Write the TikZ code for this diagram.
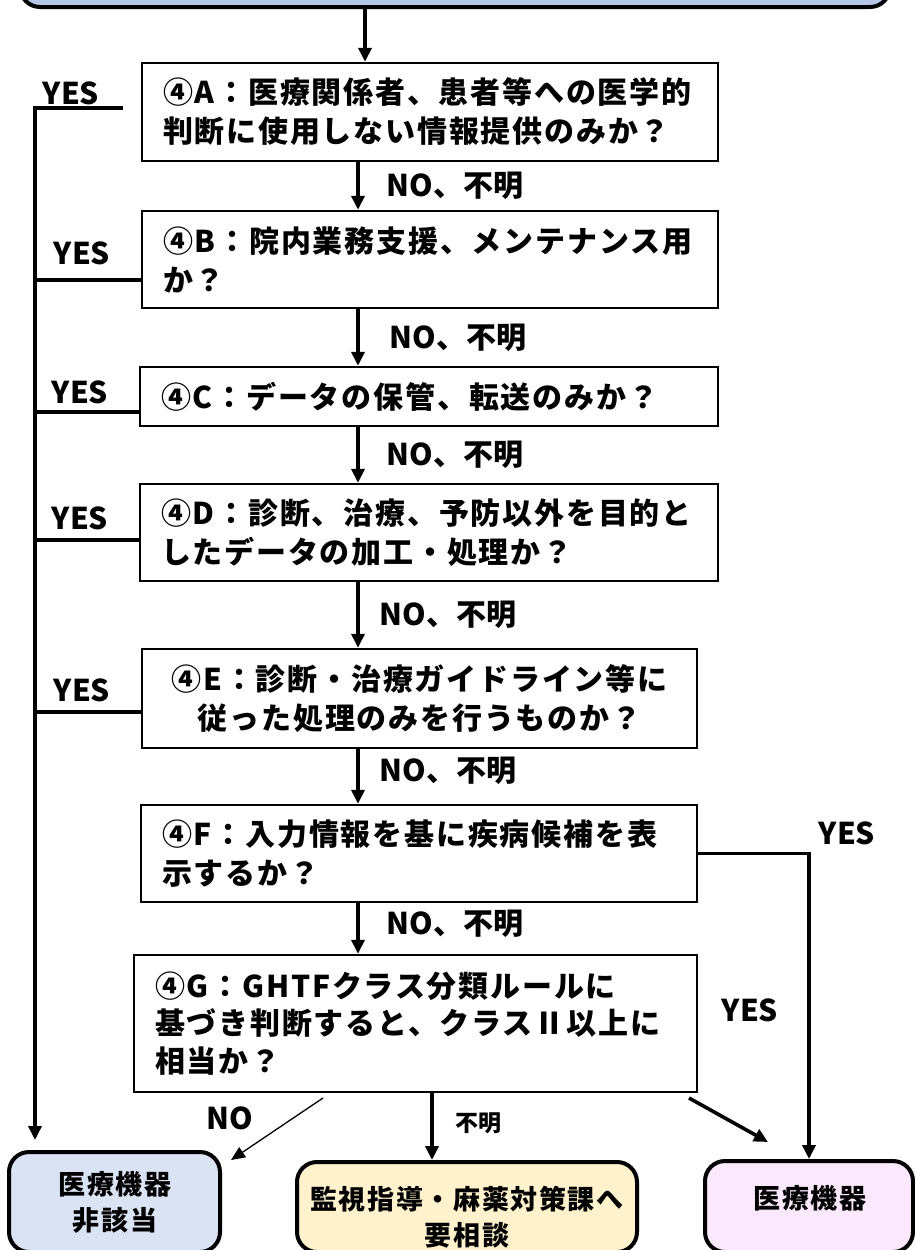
\documentclass[tikz,border=0pt]{standalone}
\usepackage{fontspec}
\newfontfamily\jp{Noto Sans CJK JP}[LetterSpace=6]
\newfontfamily\jn{Noto Sans CJK JP}
\usetikzlibrary{arrows.meta,calc}
\definecolor{topblue}{HTML}{B4C7E7}
\definecolor{lblue}{HTML}{DAE3F3}
\definecolor{lyellow}{HTML}{FFF2CC}
\definecolor{lpink}{HTML}{FCE8FC}
\begin{document}
\begin{tikzpicture}[x=1pt,y=-1pt,
 qbox/.style={draw, line width=2.4pt, inner xsep=21pt, inner ysep=0pt, font=\jp\bfseries\fontsize{30}{39}\selectfont, align=left},
 endbox/.style={draw, line width=4pt, rounded corners=20pt},
 endtxt/.style={font=\jp\bfseries\fontsize{27}{36}\selectfont, align=center, inner sep=0pt},
 lbl/.style={font=\jn\bfseries\fontsize{30}{34}\selectfont, inner sep=0pt},
 conn/.style={line width=3.6pt, -{Triangle[length=14pt,width=13pt]}},
 plainline/.style={line width=3.6pt},
]
\useasboundingbox (0,0) rectangle (915,1250);
\clip (0,0) rectangle (915,1250);

% top box (only its bottom shows)
\node[draw, line width=4pt, fill=topblue, rounded corners=20pt, minimum width=870pt, minimum height=100pt] (T) at (455,-43) {};

% question boxes
\node[qbox, text width=534pt, minimum height=98pt] (A) at (430,112) {④A：医療関係者、患者等への医学的\\判断に使用しない情報提供のみか？};
\node[qbox, text width=534pt, minimum height=97pt] (B) at (430,259.5) {④B：院内業務支援、メンテナンス用\\か？};
\node[qbox, text width=536pt, minimum height=59pt] (C) at (429,396.5) {④C：データの保管、転送のみか？};
\node[qbox, text width=536pt, minimum height=97pt] (D) at (429,532.5) {④D：診断、治療、予防以外を目的と\\したデータの加工・処理か？};
\node[qbox, text width=513pt, minimum height=99pt, align=center] (E) at (419.5,698.5) {④E：診断・治療ガイドライン等に\\従った処理のみを行うものか？};
\node[qbox, text width=514pt, minimum height=97pt] (F) at (419,853.5) {④F：入力情報を基に疾病候補を表\\示するか？};
\node[qbox, text width=521pt, minimum height=137pt, font=\jp\bfseries\fontsize{30}{37.5}\selectfont] (G) at (415.5,1023.5) {④G：GHTFクラス分類ルールに\\基づき判断すると、クラスⅡ以上に\\相当か？};

% end boxes
\node[endbox, fill=lblue, minimum width=211pt, minimum height=100pt] (L) at (114.5,1202) {};
\node[endtxt] (Lt) at (115,1202) {医療機器\\非該当};
\node[endbox, fill=lyellow, minimum width=340pt, minimum height=90pt] (M) at (467,1207) {};
\node[endtxt] (Mt) at (467,1217.5) {監視指導・麻薬対策課へ\\要相談};
\node[endbox, fill=lpink, minimum width=208pt, minimum height=91pt] (R) at (809,1206.5) {};
\node[endtxt] (Rt) at (810,1198) {医療機器};

% main vertical flow
\coordinate (tx) at (365,0);
\coordinate (xv) at (358,0);
\draw[conn] (T.south -| tx) -- (A.north -| tx);
\draw[conn] (A.south -| xv) -- (B.north -| xv) node[lbl, midway, anchor=west, xshift=27pt] {NO、不明};
\draw[conn] (B.south -| xv) -- (C.north -| xv) node[lbl, midway, anchor=west, xshift=30pt] {NO、不明};
\draw[conn] (C.south -| xv) -- (D.north -| xv) node[lbl, midway, anchor=west, xshift=27pt] {NO、不明};
\draw[conn] (D.south -| xv) -- (E.north -| xv) node[lbl, midway, anchor=west, xshift=20pt] {NO、不明};
\draw[conn] (E.south -| xv) -- (F.north -| xv) node[lbl, midway, anchor=west, xshift=20pt, yshift=6pt] {NO、不明};
\draw[conn] (F.south -| xv) -- (G.north -| xv) node[lbl, midway, anchor=west, xshift=27pt, yshift=5pt] {NO、不明};

% left YES branch
\coordinate (vx) at (35,0);
\coordinate (yA) at (123,108);
\coordinate (hB) at (0,280);
\coordinate (hC) at (0,412);
\coordinate (hD) at (0,540);
\coordinate (hE) at (0,712);
\draw[conn, shorten >=10pt] (yA) -- (yA -| vx) -- (L.north -| vx);
\draw[plainline] (vx |- hB) -- (B.west |- hB);
\draw[plainline] (vx |- hC) -- (C.west |- hC);
\draw[plainline] (vx |- hD) -- (D.west |- hD);
\draw[plainline] (vx |- hE) -- (E.west |- hE);
\node[lbl] (yesA) at (71,93) {YES};
\node[lbl] (yesB) at (82,253) {YES};
\node[lbl] (yesC) at (80,392) {YES};
\node[lbl] (yesD) at (80,518) {YES};
\node[lbl] (yesE) at (82,690) {YES};

% right YES branch
\draw[conn] (F.east) -- (F.east -| R.north) -- (R.north);
\node[lbl] (yesF) at (847,833) {YES};
\coordinate (gy1) at (689,1098);
\coordinate (gy2) at (768,1142);
\draw[conn] (gy1) -- (gy2);
\node[lbl] (yesG) at (750,1010) {YES};

% G: NO and unknown
\coordinate (gn1) at (323,1098);
\coordinate (gn2) at (231,1160);
\draw[line width=1.3pt, -{Triangle[length=14pt,width=12pt]}] (gn1) -- (gn2);
\node[lbl] (noG) at (230,1118) {NO};
\coordinate (fm) at (432,0);
\draw[conn] (G.south -| fm) -- (M.north -| fm);
\node[lbl, font=\jn\bfseries\fontsize{23}{26}\selectfont] (fmG) at (478,1123) {不明};
\end{tikzpicture}
\end{document}
